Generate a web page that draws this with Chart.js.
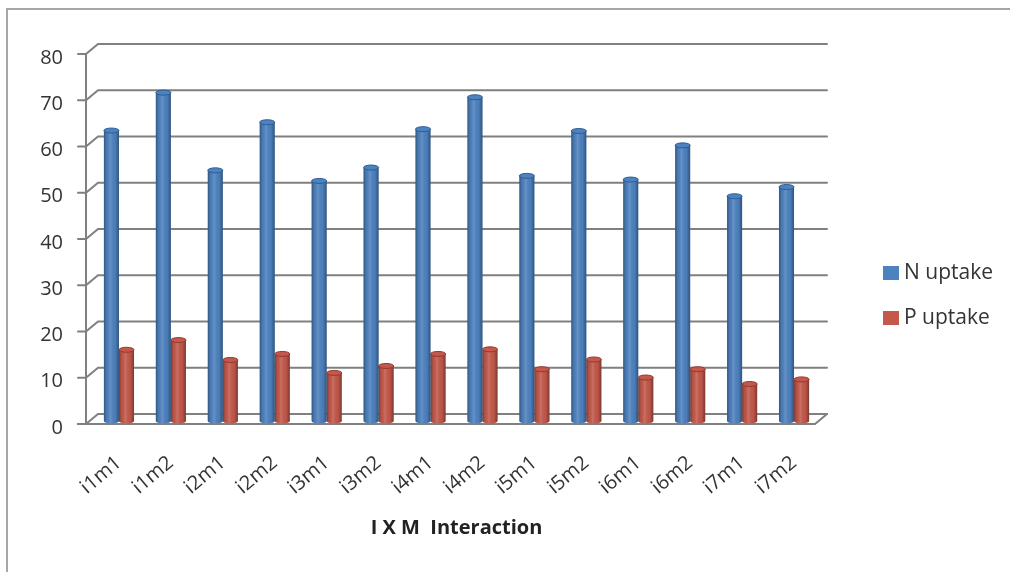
<!DOCTYPE html>
<html>
<head>
<meta charset="utf-8">
<title>N and P uptake – I X M Interaction</title>
<script src="https://cdn.jsdelivr.net/npm/chart.js@4.4.1/dist/chart.umd.min.js"></script>
<style>
  html, body { margin: 0; padding: 0; background: #ffffff; }
  #wrap { width: 1010px; height: 572px; position: relative; }
</style>
</head>
<body>
<div id="wrap"><canvas id="chart" width="1010" height="572"></canvas></div>
<script>
// Treatment combinations (irrigation level x mulch)
const categories = ['i1m1', 'i1m2', 'i2m1', 'i2m2', 'i3m1', 'i3m2', 'i4m1',
                    'i4m2', 'i5m1', 'i5m2', 'i6m1', 'i6m2', 'i7m1', 'i7m2'];

// Nutrient uptake per treatment
const nUptake = [62.8, 71.0, 54.2, 64.6, 51.9, 54.8, 63.1, 70.0, 53.0, 62.7, 52.2, 59.6, 48.6, 50.6];
const pUptake = [15.4, 17.5, 13.2, 14.5, 10.4, 11.9, 14.5, 15.5, 11.2, 13.3, 9.4, 11.2, 8.0, 9.0];

// Value axis ticks
const yTicks = [0, 10, 20, 30, 40, 50, 60, 70, 80];

const seriesNames = ['N uptake', 'P uptake'];
const seriesColors = ['#4d82c0', '#c4584a'];
const seriesEdges = ['#2d5d96', '#93392f'];

const FONT = '"Open Sans", "DejaVu Sans", sans-serif';
const TEXT = '#333333';
const GRID = '#808080';
const DX = 12, DY = 10; // depth offset of the back wall

// outer chart frame
const framePlugin = {
  id: 'frame',
  beforeDraw(chart) {
    const c = chart.ctx;
    c.save();
    c.fillStyle = '#ffffff';
    c.fillRect(0, 0, chart.width, chart.height);
    c.strokeStyle = '#a6a6a6';
    c.lineWidth = 2;
    c.strokeRect(7, 9, chart.width + 20, chart.height + 20);
    c.restore();
  }
};

// 3-D walls: gridlines on the back wall, depth ticks and floor
const wallPlugin = {
  id: 'wall',
  beforeDatasetsDraw(chart) {
    const c = chart.ctx;
    const y = chart.scales.y;
    const a = chart.chartArea;
    const frontL = a.left - 7, backL = frontL + DX;
    const frontR = a.right - 5, backR = frontR + DX;
    const yf = v => y.getPixelForValue(v) + 3;
    c.save();
    c.strokeStyle = GRID;
    c.lineWidth = 2;
    c.lineCap = 'round';
    yTicks.forEach(v => {
      const f = yf(v), b = f - DY;
      c.beginPath();
      c.moveTo(frontL - 8, f);
      c.lineTo(frontL, f);
      c.lineTo(backL, b);
      c.lineTo(backR, b);
      c.stroke();
    });
    // front value axis
    c.beginPath();
    c.moveTo(frontL, yf(yTicks[yTicks.length - 1]));
    c.lineTo(frontL, yf(0));
    c.stroke();
    // floor: front edge and right side
    c.beginPath();
    c.moveTo(frontL - 8, yf(0));
    c.lineTo(frontR, yf(0));
    c.lineTo(backR, yf(0) - DY);
    c.stroke();
    c.restore();
  }
};

// cylinder shading on every bar
const cylinderPlugin = {
  id: 'cylinder',
  afterDatasetsDraw(chart) {
    const c = chart.ctx;
    chart.data.datasets.forEach((ds, di) => {
      const meta = chart.getDatasetMeta(di);
      meta.data.forEach(el => {
        const p = el.getProps(['x', 'y', 'base', 'width'], true);
        const l = p.x - p.width / 2, r = p.x + p.width / 2;
        const g = c.createLinearGradient(l, 0, r, 0);
        g.addColorStop(0, 'rgba(0,0,0,0.34)');
        g.addColorStop(0.18, 'rgba(0,0,0,0.06)');
        g.addColorStop(0.42, 'rgba(255,255,255,0.14)');
        g.addColorStop(0.75, 'rgba(0,0,0,0.03)');
        g.addColorStop(1, 'rgba(0,0,0,0.36)');
        c.save();
        // bottom rounding
        c.fillStyle = seriesColors[di];
        c.beginPath();
        c.ellipse(p.x, p.base, p.width / 2, 2.5, 0, 0, Math.PI);
        c.fill();
        c.fillStyle = g;
        c.fillRect(l, p.y, p.width, p.base - p.y);
        c.beginPath();
        c.ellipse(p.x, p.base, p.width / 2, 2.5, 0, 0, Math.PI);
        c.fill();
        // top cap
        c.beginPath();
        c.ellipse(p.x, p.y, p.width / 2, 2.5, 0, 0, Math.PI * 2);
        c.fillStyle = seriesColors[di];
        c.fill();
        c.strokeStyle = seriesEdges[di];
        c.lineWidth = 1;
        c.stroke();
        c.restore();
      });
    });
  }
};

// legend at the right of the plot
const legendPlugin = {
  id: 'sideLegend',
  afterDraw(chart) {
    const c = chart.ctx;
    const a = chart.chartArea;
    const mid = (a.top + a.bottom) / 2;
    c.save();
    c.font = '21px ' + FONT;
    c.textBaseline = 'middle';
    c.textAlign = 'left';
    chart.data.datasets.forEach((ds, i) => {
      const cy = mid + 37 + i * 45;
      c.fillStyle = ds.backgroundColor;
      c.fillRect(a.right + 63, cy - 7, 16, 14);
      c.fillStyle = TEXT;
      c.fillText(ds.label, a.right + 84, cy);
    });
    c.restore();
  }
};

new Chart(document.getElementById('chart'), {
  type: 'bar',
  data: {
    labels: categories,
    datasets: [
      { label: seriesNames[0], data: nUptake, backgroundColor: seriesColors[0] },
      { label: seriesNames[1], data: pUptake, backgroundColor: seriesColors[1] }
    ]
  },
  options: {
    responsive: false,
    animation: false,
    events: [],
    layout: { padding: { top: 51, right: 190, left: 0, bottom: 0 } },
    datasets: { bar: { categoryPercentage: 0.58, barPercentage: 1.0, borderWidth: 0 } },
    plugins: { legend: { display: false }, tooltip: { enabled: false } },
    scales: {
      x: {
        grid: { display: false, drawTicks: false },
        border: { display: false },
        ticks: {
          color: TEXT,
          font: { family: FONT, size: 20 },
          maxRotation: 40, minRotation: 40,
          padding: 30
        },
        title: {
          display: true,
          text: 'I X M  Interaction',
          color: '#222222',
          font: { family: FONT, size: 20, weight: 'bold' },
          padding: { top: 0, bottom: 32 }
        },
        afterFit(s) { s.height = 151; }
      },
      y: {
        min: 0, max: 80,
        grid: { display: false, drawTicks: false, tickLength: 0 },
        border: { display: false },
        ticks: {
          stepSize: 10,
          color: TEXT,
          font: { family: FONT, size: 20 },
          padding: 30,
          labelOffset: 7
        },
        afterFit(s) { s.width = 93; }
      }
    }
  },
  plugins: [framePlugin, wallPlugin, cylinderPlugin, legendPlugin]
});
</script>
</body>
</html>
